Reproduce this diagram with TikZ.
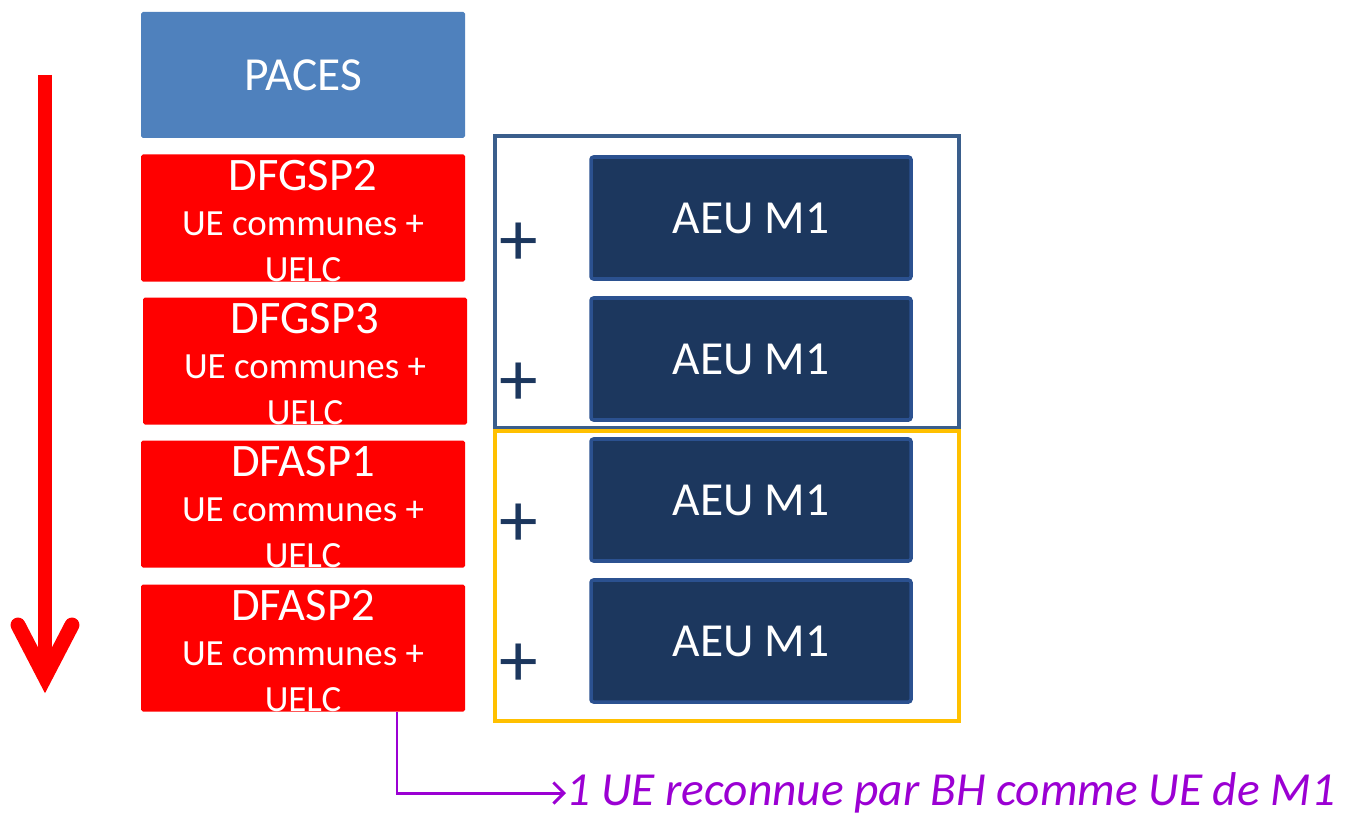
\documentclass[tikz,border=0pt]{standalone}
\usepackage{fontspec}
\setmainfont{Carlito}
\usepackage{tikz}
\usetikzlibrary{arrows.meta}

\definecolor{pacesblue}{HTML}{4F81BD}
\definecolor{aeufill}{HTML}{1C375E}
\definecolor{aeuline}{HTML}{2B5190}
\definecolor{framblue}{HTML}{3A5E8C}
\definecolor{framyellow}{HTML}{FFC000}
\definecolor{notepurple}{HTML}{9B00D3}

\newcommand{\yeartitle}[1]{{\fontsize{26.5}{26.5}\selectfont #1}}

\tikzset{
  year/.style={fill=red, minimum width=324*0.02cm, minimum height=127*0.02cm,
    rounded corners=1pt, inner sep=0pt},
  yeartext/.style={text=white, inner sep=0pt, align=center, font=\fontsize{21}{26}\selectfont},
  aeu/.style={fill=aeufill, draw=aeuline, line width=2pt, text=white, rounded corners=1.5pt,
    minimum width=320*0.02cm, minimum height=122*0.02cm, font=\fontsize{27}{32}\selectfont},
  plus/.style={text=aeufill, font=\fontsize{44}{44}\selectfont, inner sep=0pt},
}

\begin{document}
\begin{tikzpicture}[x=0.02cm, y=-0.02cm]
\useasboundingbox (0,0) rectangle (1348,814);
% left column
\node(paces)[fill=pacesblue, text=white, minimum width=324*0.02cm, minimum height=126*0.02cm,
  rounded corners=1pt, font=\fontsize{27}{27}\selectfont] at (303,75) {PACES};
\node(a)[year] at (303,218) {};
\node(b)[year] at (305,361) {};
\node(c)[year] at (303,504) {};
\node(d)[year] at (303,648) {};
\node(at)[yeartext] at (303,221) {\yeartitle{DFGSP2}\\ UE communes +\\ UELC};
\node(bt)[yeartext] at (305,364) {\yeartitle{DFGSP3}\\ UE communes +\\ UELC};
\node(ct)[yeartext] at (303,507) {\yeartitle{DFASP1}\\ UE communes +\\ UELC};
\node(dt)[yeartext] at (303,651) {\yeartitle{DFASP2}\\ UE communes +\\ UELC};
% frames
\draw[framblue, line width=2.2pt] (495,136) rectangle (959,428);
\draw[framyellow, line width=2.2pt] (495,431) rectangle (959,721);
% AEU boxes
\node(e)[aeu] at (751,218) {AEU M1};
\node(f)[aeu] at (751,359) {AEU M1};
\node(g)[aeu] at (751,500) {AEU M1};
\node(h)[aeu] at (751,641) {AEU M1};
\node(pe)[plus] at (519,244) {+};
\node(pf)[plus] at (519,384) {+};
\node(pg)[plus] at (519,525) {+};
\node(ph)[plus] at (519,665) {+};
% red arrow
\coordinate(top) at (45,75);
\coordinate(tip) at (45,677);
\draw[red, line width=8.5pt] (top) -- (45,665);
\draw[red, line width=8.5pt, line cap=round, line join=miter] (18,625) -- (tip) -- (72,625);
% note
\node(note)[anchor=west, text=notepurple, inner sep=0pt,
  font=\fontsize{27}{27}\selectfont\itshape] at (566,793) {1 UE reconnue par BH comme UE de M1};
\draw[notepurple, line width=1.7pt, -{Straight Barb[length=6pt,width=12pt,line width=1.7pt]}]
  (d.south -| 397,0) |- (note.west);
\end{tikzpicture}
\end{document}
